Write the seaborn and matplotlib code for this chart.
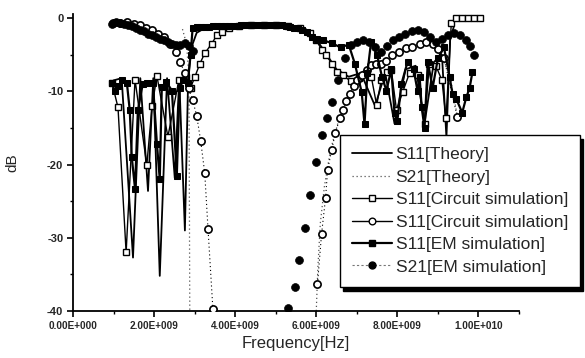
import matplotlib
matplotlib.use("Agg")
import matplotlib.pyplot as plt
from matplotlib.lines import Line2D
from matplotlib.ticker import MultipleLocator, FuncFormatter
import seaborn as sns
import pandas as pd

# ---------------- data (frequency in GHz, magnitude in dB) ----------------
th11_f = [1.00, 1.20, 1.48, 1.66, 1.85, 1.98, 2.14, 2.32, 2.51, 2.62, 2.76, 2.84, 2.92, 3.05, 3.30, 3.70,
          5.30, 5.70, 5.95, 6.20, 6.50, 6.80, 7.10, 7.45, 7.70, 7.93, 8.20, 8.45, 8.67, 8.90, 9.10, 9.21, 9.30, 9.40]
th11_db = [-8.5, -8.2, -32.7, -8.2, -23.6, -8.2, -35.2, -8.2, -21.8, -8.2, -29.0, -8.2, -4.0, -2.0, -1.2, -1.1,
           -1.1, -1.3, -2.5, -4.5, -7.0, -8.0, -7.5, -12.0, -7.5, -14.4, -7.0, -6.5, -14.4, -6.0, -5.0, -16.3, -3.0, -1.0]

th21_f_lo = [2.70, 2.80, 2.86, 2.88]
th21_db_lo = [-1.5, -3.5, -8.0, -40.0]
th21_f_hi = [6.00, 6.04, 6.10, 6.20, 6.35, 6.55, 6.80, 7.10, 7.50, 8.00, 8.60, 9.00, 9.30, 9.50]
th21_db_hi = [-40.0, -34.0, -28.0, -23.0, -18.0, -14.0, -10.5, -8.0, -6.3, -4.8, -3.5, -4.0, -8.0, -14.0]

c11_f = [0.96, 1.11, 1.31, 1.53, 1.82, 1.95, 2.07, 2.34, 2.61, 2.78, 2.90, 3.00, 3.13, 3.25, 3.42, 3.55, 3.67, 3.85,
         4.10, 4.40, 4.70, 5.00, 5.30, 5.60, 5.85, 6.00, 6.13, 6.25, 6.38, 6.50, 6.65, 6.85, 7.05, 7.20, 7.36, 7.49,
         7.60, 7.75, 7.85, 7.98, 8.13, 8.30, 8.50, 8.67, 8.79, 8.95, 9.10, 9.20, 9.33, 9.45, 9.60, 9.75, 9.90, 10.05]
c11_db = [-8.8, -12.2, -32.0, -8.4, -20.1, -12.0, -7.9, -16.2, -8.5, -8.0, -9.5, -8.1, -6.2, -4.8, -3.5, -2.3, -1.9, -1.3,
          -1.1, -1.0, -1.0, -1.0, -1.1, -1.3, -2.0, -3.0, -4.3, -5.1, -6.2, -7.3, -7.8, -8.6, -8.2, -7.6, -8.1, -11.9,
          -8.5, -7.4, -7.1, -12.6, -10.1, -7.5, -7.8, -14.4, -6.2, -6.5, -8.5, -13.7, -0.7, 0.0, 0.0, 0.0, 0.0, 0.0]

c21_f_lo = [0.99, 1.15, 1.33, 1.50, 1.65, 1.80, 1.95, 2.10, 2.25, 2.40, 2.55, 2.65, 2.75, 2.85, 2.95, 3.05, 3.15,
            3.25, 3.33, 3.45]
c21_db_lo = [-0.7, -0.6, -0.5, -0.8, -1.0, -1.3, -1.6, -2.1, -2.6, -3.5, -4.6, -6.0, -7.5, -9.5, -11.2, -13.3, -16.8,
             -21.2, -28.8, -39.7]
c21_f_hi = [6.03, 6.13, 6.23, 6.28, 6.38, 6.47, 6.58, 6.65, 6.74, 6.84, 6.92, 7.00, 7.12, 7.24, 7.34, 7.48, 7.60,
            7.73, 7.88, 8.05, 8.22, 8.37, 8.55, 8.71, 8.87, 9.00, 9.15, 9.48]
c21_db_hi = [-36.3, -29.5, -24.5, -20.7, -18.0, -15.7, -13.7, -12.5, -11.3, -10.3, -9.2, -8.5, -7.8, -7.1, -6.4, -6.2,
             -6.3, -5.8, -5.1, -4.6, -4.1, -3.9, -3.5, -3.3, -3.5, -4.2, -5.5, -13.5]

e11_f = [0.95, 1.03, 1.12, 1.20, 1.33, 1.40, 1.45, 1.53, 1.60, 1.72, 1.82, 1.97, 2.07, 2.14, 2.19, 2.30, 2.44, 2.56,
         2.63, 2.72, 2.83, 2.90,
         2.95, 3.05, 3.15, 3.25, 3.35, 3.45, 3.55, 3.65, 3.75, 3.85, 3.95, 4.05, 4.15, 4.25, 4.35, 4.45, 4.55, 4.65,
         4.75, 4.85, 4.95, 5.05, 5.15, 5.25, 5.35, 5.45, 5.55, 5.65,
         5.76, 5.90, 6.02, 6.16, 6.38, 6.60, 6.80, 6.95, 7.12, 7.19, 7.26, 7.35, 7.50, 7.62, 7.73, 7.85, 7.93, 8.00,
         8.10, 8.25, 8.40, 8.50, 8.55, 8.60, 8.67, 8.75, 8.87, 9.00, 9.15, 9.29, 9.36, 9.45, 9.60, 9.70, 9.78, 9.85]
e11_db = [-8.8, -9.9, -9.3, -8.5, -8.9, -12.6, -19.0, -23.3, -12.6, -9.0, -8.8, -8.8, -17.2, -22.0, -9.4, -8.7, -9.9,
          -21.5, -9.5, -8.5, -8.9, -5.0,
          -1.4, -1.2, -1.2, -1.2, -1.2, -1.1, -1.1, -1.1, -1.1, -1.1, -1.1, -1.1, -1.0, -1.0, -1.0, -1.0, -1.0, -1.0,
          -1.0, -1.0, -1.0, -1.0, -1.0, -1.1, -1.2, -1.3, -1.4, -1.6,
          -1.9, -2.6, -2.8, -3.0, -3.4, -4.0, -3.6, -6.2, -10.1, -14.5, -7.5, -3.3, -5.0, -8.0, -9.9, -7.0, -13.0, -14.0,
          -9.0, -6.0, -7.0, -10.0, -8.1, -12.2, -15.0, -6.0, -9.5, -5.5, -4.0, -8.1, -10.3, -11.0, -12.9, -10.8, -9.6, -7.4]

e21_f_lo = [0.95, 1.05, 1.15, 1.25, 1.35, 1.45, 1.55, 1.65, 1.75, 1.85, 1.95, 2.05, 2.15, 2.25, 2.35, 2.45, 2.55,
            2.65, 2.75, 2.85, 2.95]
e21_db_lo = [-0.8, -0.5, -0.6, -0.8, -0.9, -1.1, -1.3, -1.6, -1.8, -2.1, -2.3, -2.6, -2.8, -3.0, -3.2, -3.5, -3.7,
             -3.6, -3.4, -3.8, -4.5]
e21_f_hi = [5.30, 5.47, 5.57, 5.71, 5.84, 5.99, 6.13, 6.26, 6.40, 6.53, 6.70, 6.85, 7.00, 7.15, 7.30, 7.45, 7.60,
            7.75, 7.90, 8.05, 8.20, 8.35, 8.50, 8.65, 8.80, 8.95, 9.10, 9.25, 9.40, 9.55, 9.70, 9.80, 9.90]
e21_db_hi = [-39.6, -36.7, -33.0, -28.6, -24.1, -19.7, -15.9, -13.7, -11.5, -8.5, -5.5, -3.6, -3.2, -3.0, -3.3, -4.0,
             -4.6, -3.8, -3.0, -2.6, -2.2, -1.8, -1.6, -1.9, -2.6, -3.3, -2.9, -2.3, -2.0, -2.3, -3.0, -3.8, -5.0]

legend_labels = ["S11[Theory]", "S21[Theory]", "S11[Circuit simulation]", "S11[Circuit simulation]",
                 "S11[EM simulation]", "S21[EM simulation]"]
x_ticks = [0.0, 2e9, 4e9, 6e9, 8e9, 1e10]
y_ticks = [0, -10, -20, -30, -40]

# ---------------- style ----------------
sns.set_style("ticks")
FONT = "Liberation Sans"
plt.rcParams["font.family"] = [FONT, "DejaVu Sans"]
plt.rcParams["axes.unicode_minus"] = False

W, H = 585, 358
fig = plt.figure(figsize=(W / 100, H / 100), dpi=100)
ax = fig.add_axes([73 / W, 47 / H, 446 / W, 296.5 / H])

GHZ = 1e9


def seg(f, db):
    return pd.DataFrame({"f": [v * GHZ for v in f], "db": db})


K = "black"
# theory
for f_, d_ in [(th21_f_lo, th21_db_lo), (th21_f_hi, th21_db_hi)]:
    sns.lineplot(data=seg(f_, d_), x="f", y="db", ax=ax, sort=False, estimator=None,
                 color="#555555", lw=0.9, ls=(0, (1, 2.2)), zorder=2)
sns.lineplot(data=seg(th11_f, th11_db), x="f", y="db", ax=ax, sort=False, estimator=None,
             color=K, lw=1.3, zorder=3)
# circuit
sns.lineplot(data=seg(c11_f, c11_db), x="f", y="db", ax=ax, sort=False, estimator=None,
             color=K, lw=1.0, marker="s", ms=4.3, mfc="white", mec=K, mew=1.0, zorder=4)
for f_, d_ in [(c21_f_lo, c21_db_lo), (c21_f_hi, c21_db_hi)]:
    sns.lineplot(data=seg(f_, d_), x="f", y="db", ax=ax, sort=False, estimator=None,
                 color=K, lw=0.8, ls=(0, (1, 2.5)), marker="o", ms=5.2, mfc="white", mec=K, mew=1.2, zorder=4)
# EM
sns.lineplot(data=seg(e11_f, e11_db), x="f", y="db", ax=ax, sort=False, estimator=None,
             color=K, lw=1.6, marker="s", ms=4.6, mfc=K, mec=K, zorder=5)
for f_, d_ in [(e21_f_lo, e21_db_lo), (e21_f_hi, e21_db_hi)]:
    sns.scatterplot(data=seg(f_, d_), x="f", y="db", ax=ax, color=K, s=32, marker="o",
                    edgecolor=K, linewidth=0.5, zorder=6)

# ---------------- axes ----------------
ax.set_xlim(0, 1.1e10)
ax.set_ylim(-40, 0.5)
sns.despine(ax=ax)
for s in ("left", "bottom"):
    ax.spines[s].set_linewidth(1.3)
    ax.spines[s].set_color(K)
ax.set_xticks(x_ticks)
ax.set_yticks(y_ticks)
ax.xaxis.set_minor_locator(MultipleLocator(1e9))
ax.yaxis.set_minor_locator(MultipleLocator(5))


def sci(v, _pos=None):
    m, e = f"{v:.2E}".split("E")
    return f"{m}E{int(e):+04d}"


ax.xaxis.set_major_formatter(FuncFormatter(sci))
ax.yaxis.set_major_formatter(FuncFormatter(lambda v, p: f"{int(round(v))}"))
ax.tick_params(which="major", direction="out", length=4, width=1.2, color=K, pad=3)
ax.tick_params(which="minor", direction="out", length=2.5, width=1.0, color=K)
for lab in ax.get_xticklabels():
    lab.set_fontsize(7.2)
    lab.set_fontweight("bold")
for lab in ax.get_yticklabels():
    lab.set_fontsize(8)
    lab.set_fontweight("bold")

ax.set_xlabel("Frequency[Hz]", fontsize=12, labelpad=4)
ax.set_ylabel("dB", fontsize=11, labelpad=20)

# ---------------- legend ----------------
handles = [
    Line2D([], [], color=K, lw=1.3),
    Line2D([], [], color="#555555", lw=0.9, ls=(0, (1, 2.2))),
    Line2D([], [], color=K, lw=1.0, marker="s", ms=4.3, mfc="white", mec=K),
    Line2D([], [], color=K, lw=1.0, marker="o", ms=4.8, mfc="white", mec=K),
    Line2D([], [], color=K, lw=1.6, marker="s", ms=4.6, mfc=K, mec=K),
    Line2D([], [], color="#777777", lw=0.8, ls=(0, (2, 2)), marker="o", ms=5, mfc=K, mec=K),
]
leg = fig.legend(handles, legend_labels, loc="upper left", bbox_to_anchor=(340 / W, 1 - 135 / H),
                 bbox_transform=fig.transFigure, frameon=True, fancybox=False, framealpha=1,
                 edgecolor=K, borderaxespad=0, handlelength=2.3, handletextpad=0.2,
                 labelspacing=0.42, borderpad=0.7,
                 prop={"family": FONT, "size": 12.5},
                 shadow={"ox": 2.2, "oy": -3, "facecolor": K, "edgecolor": K, "alpha": 1})
leg.get_frame().set_linewidth(1.0)

fig.savefig("out.png", dpi=100)
